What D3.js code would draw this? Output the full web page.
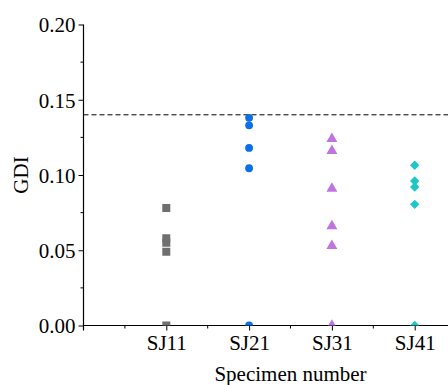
<!DOCTYPE html>
<html>
<head>
<meta charset="utf-8">
<script src="https://cdn.jsdelivr.net/npm/d3@7/dist/d3.min.js"></script>
<style>
  html, body { margin: 0; padding: 0; background: #fff; }
  svg { display: block; }
</style>
</head>
<body>
<svg id="chart" width="448" height="385"></svg>
<script>
// Specimen categories and their GDI readings
const specimens = ["SJ11", "SJ21", "SJ31", "SJ41"];
const sj11 = [0.078, 0.058, 0.055, 0.049, 0];
const sj21 = [0.138, 0.133, 0.118, 0.1045, 0];
const sj31 = [0.124, 0.116, 0.091, 0.066, 0.053, 0];
const sj41 = [0.1065, 0.096, 0.092, 0.0805, 0];
const threshold = 0.14;
const yTicks = [0, 0.05, 0.10, 0.15, 0.20];
const yMinorTicks = [0.025, 0.075, 0.125, 0.175];

const serif = "Liberation Serif";

// marker style per specimen; diamonds are squares turned by 45 degrees
const groups = [
  { name: specimens[0], values: sj11, color: "#6f6f6f", shape: d3.symbolSquare, size: 64, rot: 0 },
  { name: specimens[1], values: sj21, color: "#0a6fe8", shape: d3.symbolCircle, size: 48, rot: 0 },
  { name: specimens[2], values: sj31, color: "#c173e0", shape: d3.symbolTriangle, size: 52, rot: 0 },
  { name: specimens[3], values: sj41, color: "#1ec6c8", shape: d3.symbolSquare, size: 44, rot: 45 }
];

const svg = d3.select("#chart");
const margin = { left: 83.5, top: 24.5, bottom: 325.5, right: 448 };

const x = d3.scaleLinear().domain([0, 4.4]).range([margin.left, margin.left + 82.8 * 4.4]);
const y = d3.scaleLinear().domain([0, 0.20]).range([margin.bottom, margin.top]);

// clip marks to the plotting region
svg.append("defs").append("clipPath").attr("id", "plot")
  .append("rect")
  .attr("x", margin.left).attr("y", 0)
  .attr("width", 448 - margin.left).attr("height", margin.bottom);

// y axis with major and minor ticks
const yAxis = svg.append("g").attr("transform", `translate(${margin.left},0)`);
yAxis.call(d3.axisLeft(y).tickValues(yTicks).tickFormat(d3.format(".2f")).tickSize(5).tickPadding(3))
  .call(g => g.select(".domain").remove());
yAxis.attr("font-family", serif).attr("font-size", 21);
yAxis.selectAll("text")
  .style("font-family", serif).style("font-size", "21px").attr("fill", "#000")
  .attr("dy", "0.35em");
yAxis.selectAll(".minor").data(yMinorTicks).enter().append("line")
  .attr("x1", -3).attr("x2", 0)
  .attr("y1", d => y(d)).attr("y2", d => y(d))
  .attr("stroke", "#000");
yAxis.append("line")
  .attr("x1", 0).attr("x2", 0)
  .attr("y1", y(0.20)).attr("y2", margin.bottom + 5)
  .attr("stroke", "#000").attr("stroke-width", 1.2);

// x axis
const xAxis = svg.append("g").attr("transform", `translate(0,${margin.bottom})`);
xAxis.call(d3.axisBottom(x).tickValues([1, 2, 3, 4]).tickFormat(d => specimens[d - 1]).tickSize(5).tickPadding(5))
  .call(g => g.select(".domain").remove());
xAxis.attr("font-family", serif).attr("font-size", 21);
xAxis.selectAll("text")
  .style("font-family", serif).style("font-size", "21px").attr("fill", "#000");
xAxis.selectAll(".minor").data([0.5, 1.5, 2.5, 3.5]).enter().append("line")
  .attr("x1", d => x(d)).attr("x2", d => x(d))
  .attr("y1", 0).attr("y2", 3)
  .attr("stroke", "#000");
xAxis.append("line")
  .attr("x1", margin.left).attr("x2", 448)
  .attr("y1", 0).attr("y2", 0)
  .attr("stroke", "#000").attr("stroke-width", 1.2);

// threshold reference line
svg.append("line")
  .attr("x1", margin.left).attr("x2", 448)
  .attr("y1", y(threshold)).attr("y2", y(threshold))
  .attr("stroke", "#000").attr("stroke-width", 1)
  .attr("stroke-dasharray", "5,3");

// data points
const marks = svg.append("g").attr("clip-path", "url(#plot)");
groups.forEach((g, i) => {
  marks.selectAll(null).data(g.values).enter().append("path")
    .attr("d", d3.symbol().type(g.shape).size(g.size))
    .attr("transform", d => `translate(${x(i + 1)},${y(d)}) rotate(${g.rot})`)
    .attr("fill", g.color);
});

// axis titles
svg.append("text")
  .attr("x", x(2.5)).attr("y", 381)
  .attr("text-anchor", "middle")
  .style("font-family", serif).style("font-size", "21px")
  .text("Specimen number");
svg.append("text")
  .attr("transform", `translate(28,${y(0.10)}) rotate(-90)`)
  .attr("text-anchor", "middle")
  .style("font-family", serif).style("font-size", "21px")
  .text("GDI");
</script>
</body>
</html>
